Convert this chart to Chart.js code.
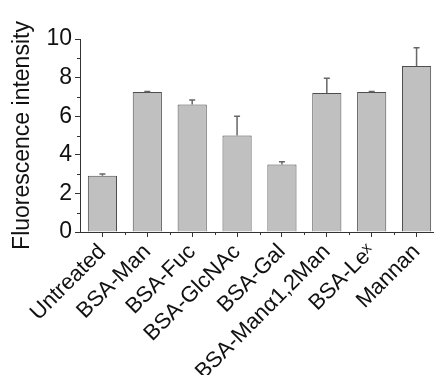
<!DOCTYPE html>
<html>
<head>
<meta charset="utf-8">
<script src="https://cdn.jsdelivr.net/npm/chart.js@4"></script>
<style>
  html, body { margin: 0; padding: 0; background: #fff; overflow: hidden; }
  #wrap { width: 434px; height: 375px; overflow: hidden; }
</style>
</head>
<body>
<div id="wrap"><canvas id="fluoChart" width="439" height="375"></canvas></div>
<script>
const categories = ['Untreated', 'BSA-Man', 'BSA-Fuc', 'BSA-GlcNAc', 'BSA-Gal', 'BSA-Manα1,2Man', 'BSA-Leˣ', 'Mannan'];
const intensity = [2.92, 7.25, 6.6, 5.0, 3.5, 7.2, 7.25, 8.6];
const errors = [0.08, 0.03, 0.24, 1.0, 0.14, 0.76, 0.03, 0.95];
const yTicks = [0, 2, 4, 6, 8, 10];

const fontFamily = 'Arial, "Liberation Sans", sans-serif';

// error bars (upper only) + minor ticks
const extras = {
  id: 'extras',
  afterDatasetsDraw(chart) {
    const ctx = chart.ctx;
    const y = chart.scales.y;
    const x = chart.scales.x;
    const meta = chart.getDatasetMeta(0);
    ctx.save();
    ctx.strokeStyle = '#666';
    ctx.lineWidth = 1.5;
    meta.data.forEach((bar, i) => {
      const top = y.getPixelForValue(intensity[i]);
      const errTop = y.getPixelForValue(intensity[i] + errors[i]);
      ctx.beginPath();
      ctx.moveTo(bar.x, top);
      ctx.lineTo(bar.x, errTop);
      ctx.moveTo(bar.x - 3, errTop);
      ctx.lineTo(bar.x + 3, errTop);
      ctx.stroke();
    });
    ctx.strokeStyle = '#333';
    ctx.lineWidth = 1;
    // minor y ticks
    for (let v = 1; v < 10; v += 2) {
      const py = Math.round(y.getPixelForValue(v)) + 0.5;
      ctx.beginPath();
      ctx.moveTo(x.left - 3, py);
      ctx.lineTo(x.left, py);
      ctx.stroke();
    }
    // x ticks at category boundaries
    const step = (x.right - x.left) / categories.length;
    for (let i = 1; i <= categories.length; i++) {
      const px = Math.round(x.left + i * step) + 0.5;
      ctx.beginPath();
      ctx.moveTo(px, y.bottom);
      ctx.lineTo(px, y.bottom + 3);
      ctx.stroke();
    }
    ctx.restore();
  }
};

const ctx = document.getElementById('fluoChart').getContext('2d');

new Chart(ctx, {
  type: 'bar',
  data: {
    labels: categories,
    datasets: [{
      data: intensity,
      backgroundColor: '#c0c0c0',
      borderColor: '#4d4d4d',
      borderWidth: 1,
      borderSkipped: 'bottom',
      barPercentage: 0.65,
      categoryPercentage: 1.0
    }]
  },
  options: {
    responsive: false,
    animation: false,
    layout: { padding: { top: 39, right: 0, left: 0, bottom: 0 } },
    plugins: {
      legend: { display: false },
      tooltip: { enabled: false }
    },
    scales: {
      x: {
        offset: true,
        afterFit(scale) { scale.height = 143; },
        grid: { display: true, offset: false, drawOnChartArea: false, tickLength: 5, color: '#333' },
        border: { color: '#333', width: 1 },
        ticks: {
          color: '#111',
          font: { family: fontFamily, size: 22 },
          maxRotation: 45,
          minRotation: 45,
          padding: 2,
          autoSkip: false
        }
      },
      y: {
        min: 0,
        max: 10,
        afterFit(scale) { scale.width = 80; },
        afterBuildTicks(scale) { scale.ticks = yTicks.map(v => ({ value: v })); },
        grid: { drawOnChartArea: false, tickLength: 5, color: '#333' },
        border: { color: '#333', width: 1 },
        ticks: {
          color: '#111',
          font: { family: fontFamily, size: 23 },
          padding: 3
        },
        title: {
          display: true,
          text: 'Fluorescence intensity',
          color: '#111',
          font: { family: fontFamily, size: 23 },
          padding: { top: 9, bottom: 0 }
        }
      }
    }
  },
  plugins: [extras]
});
</script>
</body>
</html>
